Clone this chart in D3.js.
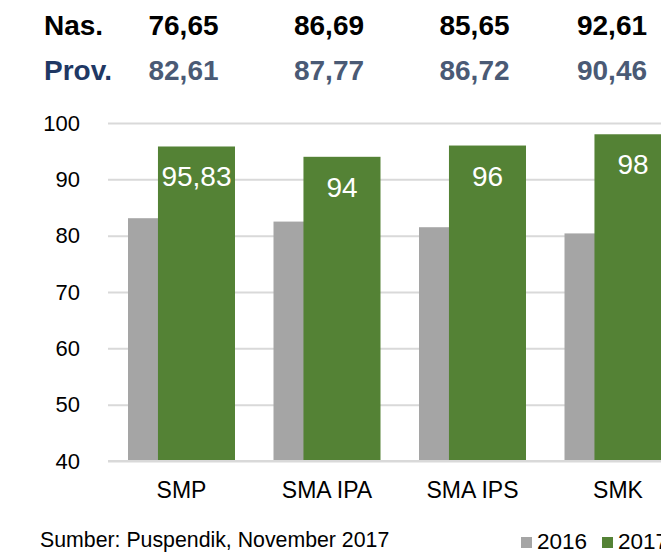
<!DOCTYPE html>
<html lang="id">
<head>
  <meta charset="UTF-8" />
  <title>Nilai UN 2016 - 2017</title>
  <script src="https://d3js.org/d3.v7.min.js"></script>
  <style>
    body {
      margin: 0;
      padding: 0;
      background-color: #fff;
      font-family: "Liberation Sans", Arial, sans-serif;
    }
    svg { display: block; }
    .grid line { stroke: #d9d9d9; stroke-width: 2px; }
    .grid path { display: none; }
    .tick text { fill: #000; font-size: 22px; }
    .head { font-family: "Liberation Sans", Arial, sans-serif; font-weight: bold; font-size: 28px; }
  </style>
</head>
<body>
  <svg width="661" height="553"></svg>

  <script>
    const categories = ["SMP", "SMA IPA", "SMA IPS", "SMK"];
    const values2016 = [83.1, 82.5, 81.5, 80.4];
    const values2017 = [95.83, 94, 96, 98];
    const labels2017 = ["95,83", "94", "96", "98"];
    const nasLabels = ["76,65", "86,69", "85,65", "92,61"];
    const provLabels = ["82,61", "87,77", "86,72", "90,46"];
    const yTicks = [40, 50, 60, 70, 80, 90, 100];
    const seriesNames = ["2016", "2017"];
    const colors = ["#a5a5a5", "#548235"];

    const svg = d3.select("svg");

    const x = d3.scaleBand()
      .domain(categories)
      .range([89.5, 710])
      .paddingInner(0.2646)
      .paddingOuter(0.2646);

    const y = d3.scaleLinear()
      .domain([40, 100])
      .range([461, 123]);

    const bw = x.bandwidth();
    const barW = bw * 0.72;

    // gridlines
    svg.append("g")
      .attr("class", "grid")
      .attr("transform", "translate(108,0)")
      .call(d3.axisLeft(y).tickValues(yTicks).tickSize(-560).tickFormat(""));

    // y labels
    svg.append("g")
      .attr("transform", "translate(80,0)")
      .call(d3.axisLeft(y).tickValues(yTicks).tickSize(0).tickPadding(0))
      .call(g => g.select(".domain").remove())
      .selectAll("text")
      .attr("font-family", "'Liberation Sans', Arial, sans-serif");

    // 2016 bars
    svg.append("g").selectAll("rect")
      .data(categories)
      .join("rect")
      .attr("x", d => x(d))
      .attr("width", barW)
      .attr("y", (d, i) => y(values2016[i]))
      .attr("height", (d, i) => y(40) - y(values2016[i]))
      .attr("fill", colors[0]);

    // 2017 bars
    svg.append("g").selectAll("rect")
      .data(categories)
      .join("rect")
      .attr("x", d => x(d) + bw - barW)
      .attr("width", barW)
      .attr("y", (d, i) => y(values2017[i]))
      .attr("height", (d, i) => y(40) - y(values2017[i]))
      .attr("fill", colors[1]);

    // labels in the green bars
    svg.append("g").selectAll("text")
      .data(categories)
      .join("text")
      .attr("x", d => x(d) + bw - barW / 2)
      .attr("y", (d, i) => y(values2017[i]) + 40)
      .attr("text-anchor", "middle")
      .attr("fill", "#fff")
      .attr("font-size", 28)
      .text((d, i) => labels2017[i]);

    // baseline
    svg.append("line")
      .attr("x1", 108).attr("x2", 661)
      .attr("y1", y(40)).attr("y2", y(40))
      .attr("stroke", "#d9d9d9").attr("stroke-width", 2);

    // x labels
    svg.append("g").selectAll("text")
      .data(categories)
      .join("text")
      .attr("x", d => x(d) + bw / 2)
      .attr("y", 498)
      .attr("text-anchor", "middle")
      .attr("font-size", 23)
      .attr("fill", "#000")
      .text(d => d);

    // header rows
    svg.append("text").attr("class", "head")
      .attr("x", 44).attr("y", 35).attr("fill", "#000").text("Nas.");
    svg.append("text").attr("class", "head")
      .attr("x", 44).attr("y", 80).attr("fill", "#1f3864").text("Prov.");

    svg.append("g").selectAll("text")
      .data(categories)
      .join("text")
      .attr("class", "head")
      .attr("x", (d, i) => x(d) + bw / 2 + (i == 3 ? -6 : 2))
      .attr("y", 35)
      .attr("text-anchor", "middle")
      .attr("fill", "#000")
      .text((d, i) => nasLabels[i]);

    svg.append("g").selectAll("text")
      .data(categories)
      .join("text")
      .attr("class", "head")
      .attr("x", (d, i) => x(d) + bw / 2 + (i == 3 ? -6 : 2))
      .attr("y", 80)
      .attr("text-anchor", "middle")
      .attr("fill", "#4a5a75")
      .text((d, i) => provLabels[i]);

    // source
    svg.append("text")
      .attr("x", 40).attr("y", 547)
      .attr("font-size", 21.3)
      .attr("fill", "#000")
      .text("Sumber: Puspendik, November 2017");

    // legend (the reference cuts "2017" at the right edge too)
    const leg = svg.append("g").selectAll("g")
      .data(seriesNames)
      .join("g")
      .attr("transform", (d, i) => `translate(${521 + i * 81},0)`);
    leg.append("rect")
      .attr("x", 0).attr("y", 537).attr("width", 11).attr("height", 11)
      .attr("fill", (d, i) => colors[i]);
    leg.append("text")
      .attr("x", 16).attr("y", 549)
      .attr("font-size", 22.5)
      .attr("fill", "#000")
      .text(d => d);
  </script>
</body>
</html>
